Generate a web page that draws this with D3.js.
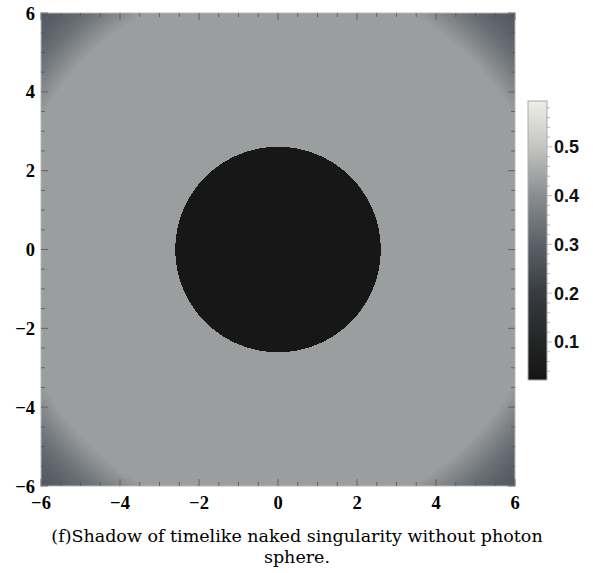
<!DOCTYPE html>
<html>
<head>
<meta charset="utf-8">
<script src="https://cdn.jsdelivr.net/npm/d3@7"></script>
<style>
  body { margin: 0; background: #fff; }
  svg { display: block; }
</style>
</head>
<body>
<div id="wrap"></div>
<script>
var w = 593;
var h = 573;

// radial brightness profile (r in plot units)
var profileR = [0, 2.6, 2.6, 6.85, 7.2, 7.6, 8.0, 8.5];
var profileV = [0.02, 0.02, 0.43, 0.43, 0.39, 0.34, 0.305, 0.27];

// colour bar (GrayTones-like)
var cbVals = [0, 0.1, 0.2, 0.3, 0.4, 0.5, 0.6];
var cbColors = ["#141414", "#242526", "#383c40", "#5a6168", "#8a8d8f", "#c4c5c2", "#eeeee7"];
var cbTicks = [0.1, 0.2, 0.3, 0.4, 0.5];
var cbMin = 0.022, cbMax = 0.594;

var axTicks = [-6, -4, -2, 0, 2, 4, 6];
var caption = ["(f)Shadow of timelike naked singularity without photon", "sphere."];

var x = d3.scaleLinear().domain([-6, 6]).range([41, 515]);
var y = d3.scaleLinear().domain([-6, 6]).range([486, 13]);
var color = d3.scaleLinear().domain(cbVals).range(cbColors);
var cy = d3.scaleLinear().domain([cbMin, cbMax]).range([380, 101]);

var svg = d3.select("#wrap").append("svg").attr("width", w).attr("height", h);
var defs = svg.append("defs");

var rMax = profileR[profileR.length - 1];
var rg = defs.append("radialGradient").attr("id", "field")
  .attr("gradientUnits", "userSpaceOnUse")
  .attr("cx", x(0)).attr("cy", y(0)).attr("r", x(rMax) - x(0));
rg.selectAll("stop").data(profileR).enter().append("stop")
  .attr("offset", function(d) { return d / rMax; })
  .attr("stop-color", function(d, i) { return color(profileV[i]); });

svg.append("rect")
  .attr("x", x(-6)).attr("y", y(6))
  .attr("width", x(6) - x(-6)).attr("height", y(-6) - y(6))
  .attr("fill", "url(#field)")
  .attr("stroke", "#b8b8b8").attr("stroke-width", 1);

// ticks on all four sides, pointing inward
var minor = d3.range(-6, 6.01, 0.5);
function tickLen(d) { return (d % 2 === 0) ? 7 : 4; }
var tk = svg.append("g").attr("stroke", "#555").attr("stroke-width", 0.8);
tk.selectAll(".b").data(minor).enter().append("line")
  .attr("x1", function(d) { return x(d); }).attr("x2", function(d) { return x(d); })
  .attr("y1", y(-6)).attr("y2", function(d) { return y(-6) - tickLen(d); });
tk.selectAll(".t").data(minor).enter().append("line")
  .attr("x1", function(d) { return x(d); }).attr("x2", function(d) { return x(d); })
  .attr("y1", y(6)).attr("y2", function(d) { return y(6) + tickLen(d); });
tk.selectAll(".l").data(minor).enter().append("line")
  .attr("y1", function(d) { return y(d); }).attr("y2", function(d) { return y(d); })
  .attr("x1", x(-6)).attr("x2", function(d) { return x(-6) + tickLen(d); });
tk.selectAll(".r").data(minor).enter().append("line")
  .attr("y1", function(d) { return y(d); }).attr("y2", function(d) { return y(d); })
  .attr("x1", x(6)).attr("x2", function(d) { return x(6) - tickLen(d); });

function lab(d) { return d < 0 ? "\u2212" + Math.abs(d) : String(d); }

svg.append("g").selectAll("text").data(axTicks).enter().append("text")
  .attr("x", function(d) { return x(d); }).attr("y", 509)
  .attr("text-anchor", "middle")
  .attr("font-family", "Liberation Serif").attr("font-weight", "bold").attr("font-size", 18.5)
  .text(lab);

svg.append("g").selectAll("text").data(axTicks).enter().append("text")
  .attr("x", 35).attr("y", function(d) { return y(d) + 6.5; })
  .attr("text-anchor", "end")
  .attr("font-family", "Liberation Serif").attr("font-weight", "bold").attr("font-size", 18.5)
  .text(lab);

// colour bar
var lg = defs.append("linearGradient").attr("id", "cb")
  .attr("x1", 0).attr("y1", 1).attr("x2", 0).attr("y2", 0);
lg.selectAll("stop").data(cbVals).enter().append("stop")
  .attr("offset", function(d) { return (d - cbMin) / (cbMax - cbMin); })
  .attr("stop-color", function(d) { return color(d); });

svg.append("rect")
  .attr("x", 528).attr("y", cy(cbMax))
  .attr("width", 19).attr("height", cy(cbMin) - cy(cbMax))
  .attr("fill", "url(#cb)")
  .attr("stroke", "#aaa").attr("stroke-width", 1);

svg.append("g").attr("stroke", "#999").attr("stroke-width", 0.7)
  .selectAll("line").data(d3.range(0.04, cbMax, 0.02)).enter().append("line")
  .attr("x1", 547).attr("x2", function(d) { return Math.abs(d * 10 - Math.round(d * 10)) < 1e-6 ? 552 : 550; })
  .attr("y1", function(d) { return cy(d); }).attr("y2", function(d) { return cy(d); });

svg.append("g").selectAll("text").data(cbTicks).enter().append("text")
  .attr("x", 554).attr("y", function(d) { return cy(d) + 6.5; })
  .attr("font-family", "Liberation Sans").attr("font-weight", "bold").attr("font-size", 18)
  .attr("fill", "#111")
  .text(function(d) { return d.toFixed(1); });

svg.append("g").selectAll("text").data(caption).enter().append("text")
  .attr("x", 297).attr("y", function(d, i) { return 542 + i * 21; })
  .attr("text-anchor", "middle")
  .attr("font-family", "DejaVu Serif").attr("font-size", 17.5)
  .text(function(d) { return d; });
</script>
</body>
</html>
